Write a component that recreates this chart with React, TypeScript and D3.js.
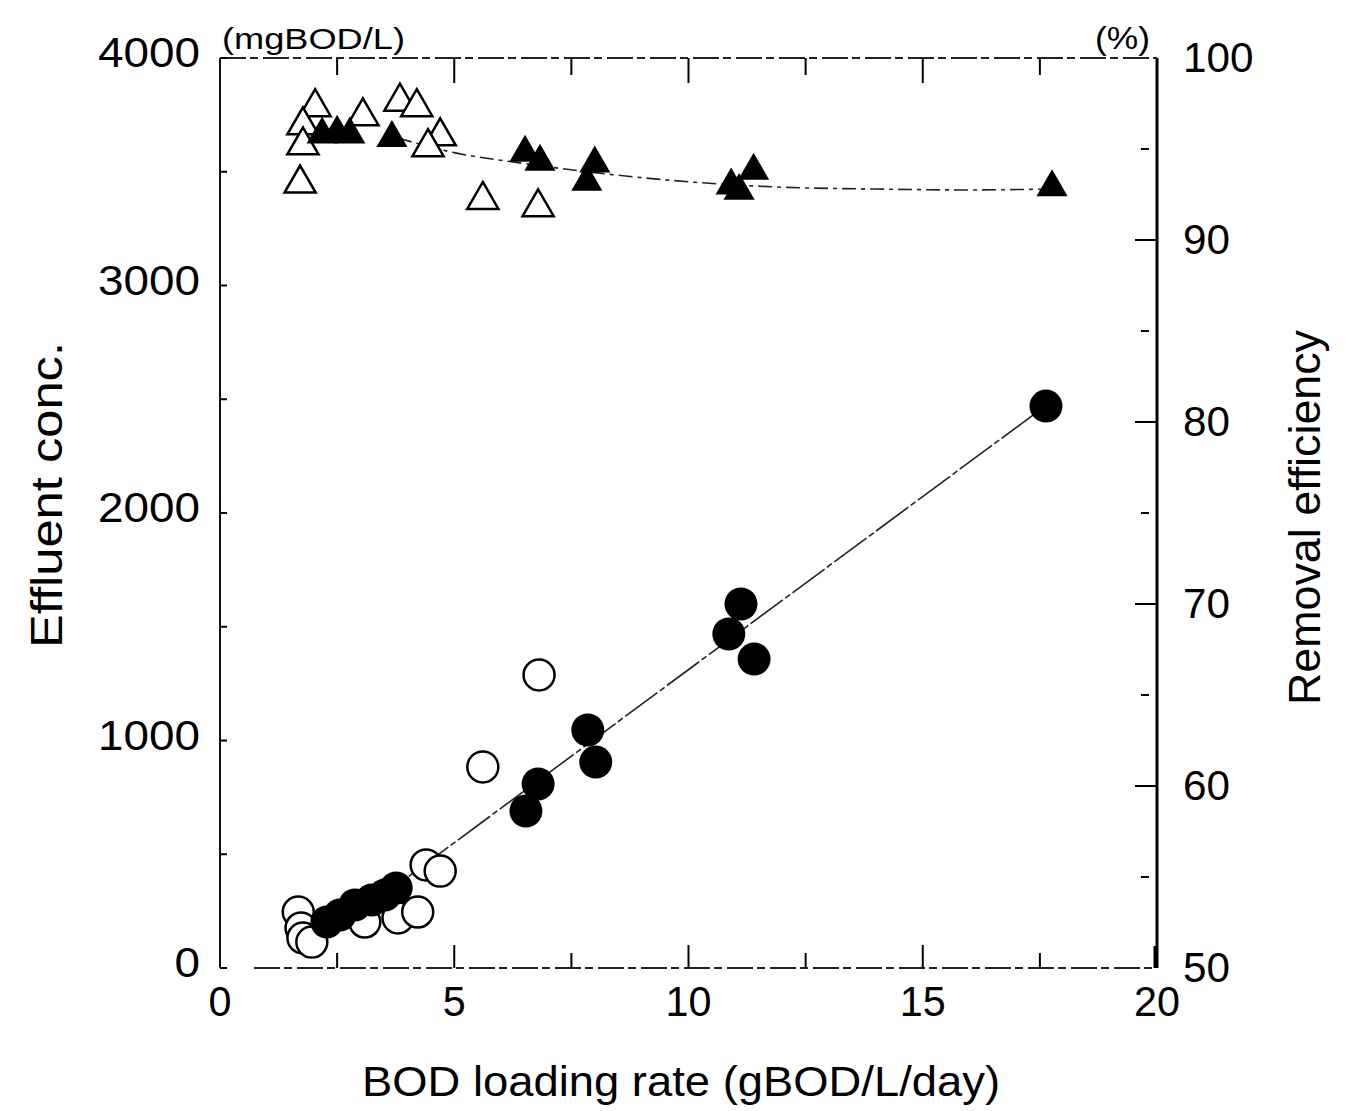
import React from 'react'
import * as d3 from 'd3'

// BOD loading rate (gBOD/L/day) vs effluent conc. (mgBOD/L)
const filledCircleX = [2.28, 2.56, 2.88, 3.24, 3.52, 3.76, 6.53, 6.79, 7.85, 8.02, 10.86, 11.12, 11.4, 17.63]
const filledCircleY = [202, 233, 277, 299, 321, 352, 690, 809, 1046, 905, 1468, 1600, 1358, 2470]
const openCircleX = [1.67, 1.73, 1.77, 1.96, 3.09, 3.8, 4.22, 4.4, 4.7, 5.61, 6.81]
const openCircleY = [246, 176, 132, 114, 202, 220, 246, 453, 426, 884, 1288]

// removal efficiency (%)
const openTriX = [2.03, 1.77, 1.77, 1.71, 3.05, 3.84, 4.2, 4.7, 4.44, 5.61, 6.79]
const openTriY = [97.3, 96.3, 95.2, 93.1, 96.8, 97.6, 97.3, 95.7, 95.1, 92.2, 91.8]
const filledTriX = [2.18, 2.5, 2.77, 3.67, 6.51, 6.83, 8.0, 7.83, 11.39, 10.91, 11.08, 17.76]
const filledTriY = [95.8, 95.9, 95.8, 95.6, 94.8, 94.3, 94.2, 93.2, 93.8, 93.0, 92.7, 92.9]

// fitted lines
const concLineX = [2.4, 17.6]
const concLineY = [155, 2468]
const effLineX = [3.8, 5, 6.5, 8, 10, 12, 14, 16, 17.7]
const effLineY = [95.6, 94.8, 94.2, 93.7, 93.2, 92.9, 92.8, 92.75, 92.8]

const xTicks = [0, 5, 10, 15, 20]
const xMinor = [2.5, 7.5, 12.5, 17.5]
const leftTicks = [0, 1000, 2000, 3000, 4000]
const leftMinor = [500, 1500, 2500, 3500]
const rightTicks = [50, 60, 70, 80, 90, 100]
const rightMinor = [55, 65, 75, 85, 95]

const W = 1353
const H = 1111
const font = "'Liberation Sans', Arial, sans-serif"

export default function App() {
  const x = d3.scaleLinear().domain([0, 20]).range([220, 1157])
  const yL = d3.scaleLinear().domain([0, 4000]).range([968, 58])
  const yR = d3.scaleLinear().domain([50, 100]).range([968, 58])
  const [x0, x1] = x.range()
  const [y0, y1] = yL.range()

  const tri = d3.symbol(d3.symbolTriangle, 420)()
  const concLine = d3.line<number>().x((d) => x(d)).y((d, i) => yL(concLineY[i]))
  const effLine = d3.line<number>().x((d) => x(d)).y((d, i) => yR(effLineY[i])).curve(d3.curveMonotoneX)

  return (
    <svg width={W} height={H} style={{ position: 'absolute', left: 0, top: 0, background: '#fff' }} fontFamily={font}>
      {/* frame */}
      <line x1={x0} x2={x0} y1={y1} y2={y0} stroke="#111" strokeWidth={2} />
      <line x1={x1} x2={x1} y1={y1} y2={y0} stroke="#000" strokeWidth={3} />
      <line x1={x0} x2={x1} y1={y1} y2={y1} stroke="#222" strokeWidth={2} strokeDasharray="26,4,8,5" />
      <line x1={x0 + 34} x2={x1} y1={y0} y2={y0} stroke="#222" strokeWidth={2} strokeDasharray="26,4,8,5" />

      {/* x ticks, bottom and top, pointing inward */}
      {xTicks.slice(1, -1).map((t) => (
        <g key={'xt' + t}>
          <line x1={x(t)} x2={x(t)} y1={y0} y2={y0 - 23} stroke="#000" strokeWidth={2} />
          <line x1={x(t)} x2={x(t)} y1={y1} y2={y1 + 25} stroke="#000" strokeWidth={2} />
        </g>
      ))}
      {xMinor.map((t) => (
        <g key={'xm' + t}>
          <line x1={x(t)} x2={x(t)} y1={y0} y2={y0 - 15} stroke="#000" strokeWidth={2} />
          <line x1={x(t)} x2={x(t)} y1={y1} y2={y1 + 17} stroke="#000" strokeWidth={2} />
        </g>
      ))}
      <line x1={x1 - 2} x2={x1 - 2} y1={y0} y2={y0 - 22} stroke="#000" strokeWidth={3} />

      {/* left ticks */}
      {leftTicks.concat(leftMinor).map((t) => (
        <line key={'lt' + t} x1={x0} x2={x0 + 7} y1={yL(t)} y2={yL(t)} stroke="#000" strokeWidth={2} />
      ))}
      {/* right ticks */}
      {rightTicks.slice(1, -1).map((t) => (
        <line key={'rt' + t} x1={x1} x2={x1 - 22} y1={yR(t)} y2={yR(t)} stroke="#000" strokeWidth={2} />
      ))}
      {rightMinor.map((t) => (
        <line key={'rm' + t} x1={x1 - 8} x2={x1 - 16} y1={yR(t)} y2={yR(t)} stroke="#000" strokeWidth={2} />
      ))}

      {/* tick labels */}
      {xTicks.map((t) => (
        <text key={'xl' + t} x={x(t)} y={1016} fontSize={42} textAnchor="middle" fill="#000"
          textLength={String(t).length * 23} lengthAdjust="spacingAndGlyphs">{t}</text>
      ))}
      {leftTicks.map((t) => (
        <text key={'ll' + t} x={200} y={yL(t) + 9} fontSize={42} textAnchor="end" fill="#000"
          textLength={String(t).length * 25.5} lengthAdjust="spacingAndGlyphs">{t}</text>
      ))}
      {rightTicks.map((t) => (
        <text key={'rl' + t} x={1183} y={yR(t) + 14} fontSize={42} textAnchor="start" fill="#000"
          textLength={String(t).length * 23.5} lengthAdjust="spacingAndGlyphs">{t}</text>
      ))}

      {/* unit labels */}
      <text x={222} y={49} fontSize={30} fill="#000" textLength={183} lengthAdjust="spacingAndGlyphs">(mgBOD/L)</text>
      <text x={1095} y={49} fontSize={31} fill="#000" textLength={55} lengthAdjust="spacingAndGlyphs">(%)</text>

      {/* axis titles */}
      <text x={362} y={1096} fontSize={43} fill="#000" textLength={638} lengthAdjust="spacingAndGlyphs">BOD loading rate (gBOD/L/day)</text>
      <text transform="translate(62,648) rotate(-90)" fontSize={44} fill="#000" textLength={306} lengthAdjust="spacingAndGlyphs">Effluent conc.</text>
      <text transform="translate(1320,705) rotate(-90)" fontSize={44} fill="#000" textLength={375} lengthAdjust="spacingAndGlyphs">Removal efficiency</text>

      {/* fitted lines */}
      <path d={concLine(concLineX) ?? ''} fill="none" stroke="#222" strokeWidth={1.6} strokeDasharray="40,3,6,3" />
      <path d={effLine(effLineX) ?? ''} fill="none" stroke="#222" strokeWidth={1.6} strokeDasharray="14,5,4,5" />

      {/* open circles */}
      {openCircleX.map((v, i) => (
        <circle key={'oc' + i} cx={x(v)} cy={yL(openCircleY[i])} r={15.5} fill="#fff" stroke="#000" strokeWidth={2.5} />
      ))}
      {/* filled circles */}
      {filledCircleX.map((v, i) => (
        <circle key={'fc' + i} cx={x(v)} cy={yL(filledCircleY[i])} r={16.5} fill="#000" />
      ))}

      {/* open triangles */}
      {openTriX.map((v, i) => (
        <path key={'ot' + i} d={tri ?? ''} transform={`translate(${x(v)},${yR(openTriY[i])})`} fill="#fff" stroke="#000" strokeWidth={2.5} />
      ))}
      {/* filled triangles */}
      {filledTriX.map((v, i) => (
        <path key={'ft' + i} d={tri ?? ''} transform={`translate(${x(v)},${yR(filledTriY[i])})`} fill="#000" />
      ))}
    </svg>
  )
}
